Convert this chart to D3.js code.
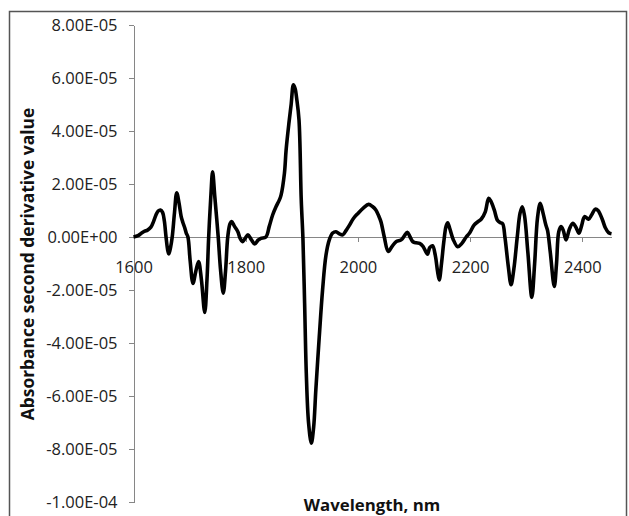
<!DOCTYPE html>
<html>
<head>
<meta charset="utf-8">
<script src="https://cdn.jsdelivr.net/npm/d3@7"></script>
<style>
    body { margin: 0; background: #fff; }
    .axis path, .axis line { stroke: #868686; shape-rendering: crispEdges; }
    .axis text { font-family: "Open Sans", sans-serif; font-size: 16.5px; fill: #222; }
    .title { font-family: "Open Sans", sans-serif; font-weight: bold; font-size: 16.8px; fill: #111; }
</style>
</head>
<body>
<div class="chart"></div>
<script>

// wavelength (nm) and second derivative values (in units of 1E-05)
const wavelengths = [
    1600, 1608, 1614, 1620, 1625, 1631, 1636, 1640, 1644, 1648, 1652, 1655, 1658, 1661, 1663, 1666, 1669,
    1673, 1677, 1681, 1685, 1688, 1691, 1694, 1697, 1701, 1706, 1711, 1716, 1721, 1727, 1731, 1734,
    1738, 1741, 1745, 1751, 1755, 1760, 1764, 1768, 1772, 1775, 1780, 1786, 1790, 1794, 1799, 1804,
    1810, 1816, 1822, 1827, 1836, 1842, 1848, 1854, 1860, 1863, 1869, 1872, 1877, 1881, 1885, 1888,
    1891, 1895, 1899, 1902, 1905, 1908, 1912, 1917, 1921, 1925, 1931, 1937, 1943, 1949, 1955, 1961,
    1967, 1973, 1979, 1985, 1992, 2000, 2010, 2019, 2026, 2032, 2037, 2041, 2047, 2054, 2061, 2068,
    2077, 2083, 2088, 2093, 2098, 2104, 2110, 2116, 2124, 2128, 2133, 2138, 2142, 2145, 2149, 2153,
    2157, 2160, 2164, 2170, 2178, 2185, 2193, 2199, 2207, 2214, 2220, 2227, 2233, 2237, 2243, 2249,
    2254, 2258, 2262, 2268, 2273, 2278, 2284, 2289, 2293, 2297, 2303, 2310, 2315, 2320, 2325, 2330,
    2335, 2338, 2343, 2350, 2354, 2358, 2362, 2366, 2371, 2377, 2383, 2389, 2394, 2399, 2404, 2411,
    2417, 2423, 2428, 2436, 2441, 2447, 2452
];
const secondDeriv = [
    0.0, 0.05, 0.14, 0.22, 0.26, 0.37, 0.6, 0.83, 0.98, 1.02, 0.92, 0.6, 0.0, -0.5, -0.64, -0.4, 0.0,
    0.9, 1.67, 1.3, 0.77, 0.55, 0.37, 0.15, 0.0, -0.9, -1.75, -1.3, -0.93, -1.6, -2.85, -1.6, 0.0,
    1.6, 2.46, 1.5, 0.0, -1.2, -2.12, -1.3, 0.0, 0.5, 0.58, 0.4, 0.2, -0.05, -0.18, -0.05, 0.08,
    -0.1, -0.26, -0.12, -0.05, 0.0, 0.4, 0.83, 1.14, 1.4, 1.58, 2.4, 3.28, 4.29, 5.0, 5.74, 5.6,
    5.2, 4.42, 1.4, -0.05, -2.5, -5.14, -7.0, -7.78, -7.2, -5.77, -3.8, -2.0, -0.7, -0.11, 0.15, 0.2,
    0.12, 0.08, 0.25, 0.45, 0.7, 0.89, 1.1, 1.23, 1.15, 1.02, 0.8, 0.58, 0.0, -0.55, -0.35, -0.18,
    -0.11, 0.05, 0.18, 0.0, -0.18, -0.22, -0.24, -0.35, -0.65, -0.4, -0.33, -0.7, -1.3, -1.62, -1.0, -0.2,
    0.4, 0.54, 0.3, -0.1, -0.37, -0.25, 0.0, 0.15, 0.45, 0.58, 0.68, 0.95, 1.46, 1.35, 1.02, 0.62,
    0.54, 0.5, 0.0, -1.1, -1.8, -1.2, 0.0, 0.9, 1.14, 0.8, -0.6, -2.28, -1.0, 0.7, 1.27, 0.9,
    0.45, 0.25, -0.6, -1.87, -1.0, 0.2, 0.39, 0.25, -0.11, 0.3, 0.52, 0.35, 0.14, 0.45, 0.77, 0.67,
    0.85, 1.05, 1.0, 0.64, 0.35, 0.16, 0.12
];
const xTicks = [1600, 1800, 2000, 2200, 2400];
const yTicks = [8e-5, 6e-5, 4e-5, 2e-5, 0, -2e-5, -4e-5, -6e-5, -8e-5, -1e-4];

const margin = {top: 25, left: 133.5};
const width = 478, height = 477;

let svg = d3.select(".chart").append("svg")
    .attr("width", 629)
    .attr("height", 516);

// outer chart frame
svg.append("rect")
    .attr("x", 9.5).attr("y", 11.5)
    .attr("width", 617).attr("height", 540)
    .attr("fill", "none")
    .attr("stroke", "#555")
    .attr("stroke-width", 1.5);

let g = svg.append("g")
    .attr("transform", "translate(" + margin.left + "," + margin.top + ")");

let x = d3.scaleLinear().domain([1600, 2452]).range([0, width]);
let y = d3.scaleLinear().domain([-1e-4, 8e-5]).range([height, 0]);

// y axis
g.append("g")
    .attr("class", "axis axis--y")
    .call(d3.axisLeft(y).tickValues(yTicks).tickSize(5).tickPadding(11).tickSizeOuter(0)
        .tickFormat(d => d.toExponential(2).replace("e", "E").replace(/E([+-])(\d)$/, "E$10$2")));

// x axis through zero
g.append("g")
    .attr("class", "axis axis--x")
    .attr("transform", "translate(0," + y(0) + ")")
    .call(d3.axisBottom(x).tickValues(xTicks).tickSize(5).tickPadding(19).tickSizeOuter(0)
        .tickFormat(d => String(d)));

g.selectAll(".axis--x .tick").filter(d => d === 1600).select("line").remove();

let data = wavelengths.map((w, i) => ({w: w, v: secondDeriv[i] * 1e-5}));

let line = d3.line()
    .x(d => x(d.w))
    .y(d => y(d.v))
    .curve(d3.curveCatmullRom.alpha(0.5));

g.append("path")
    .datum(data)
    .attr("d", line)
    .attr("fill", "none")
    .attr("stroke", "#000")
    .attr("stroke-width", 3.6)
    .attr("stroke-linejoin", "round");

// axis titles
svg.append("text")
    .attr("class", "title")
    .attr("transform", "translate(34,264) rotate(-90)")
    .attr("text-anchor", "middle")
    .style("font-size", "17.4px")
    .text("Absorbance second derivative value");

svg.append("text")
    .attr("class", "title")
    .attr("x", 372).attr("y", 511)
    .attr("text-anchor", "middle")
    .text("Wavelength, nm");

</script>
</body>
</html>
